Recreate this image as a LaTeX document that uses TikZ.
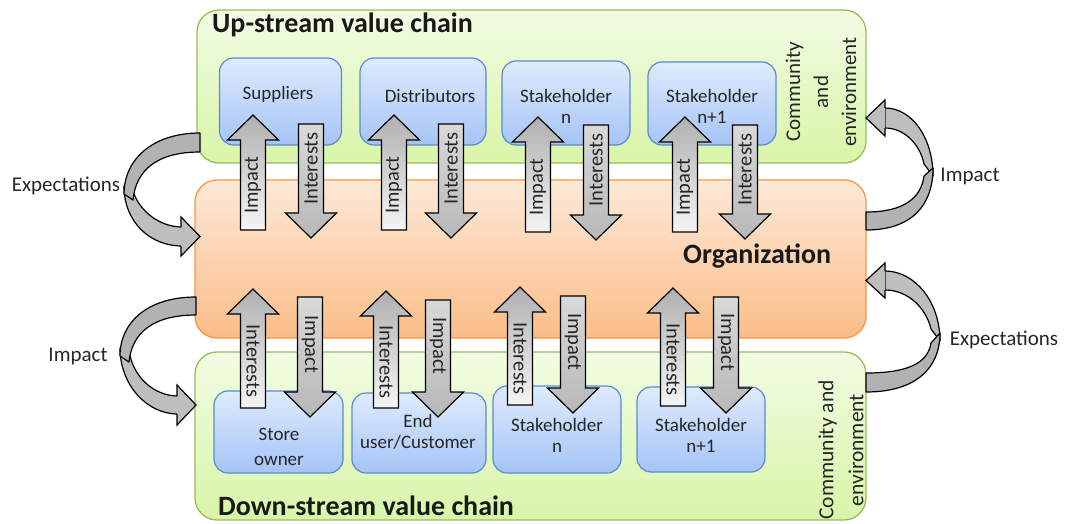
\documentclass[tikz,border=0pt]{standalone}
\usepackage{fontspec}
\setmainfont{Carlito}
\definecolor{grnB}{HTML}{9BBB59}
\definecolor{grnT}{HTML}{F2FCE4}
\definecolor{grnBot}{HTML}{D8F5A8}
\definecolor{orB}{HTML}{F79646}
\definecolor{orT}{HTML}{FDE9D8}
\definecolor{orBot}{HTML}{FBBD88}
\definecolor{blB}{HTML}{5A8BD0}
\definecolor{blT}{HTML}{DFEBFD}
\definecolor{blBot}{HTML}{A5C4F6}
\definecolor{txt}{HTML}{262626}
\definecolor{bandgray}{HTML}{BEBEBE}
\definecolor{banddark}{HTML}{B2B2B2}
\newcommand{\fs}[2]{\fontsize{#1}{#2}\selectfont}
\newcommand{\arrUp}[6]{%
  \pgfmathsetmacro{\hb}{#3+25}%
  \pgfmathsetmacro{\my}{(#3+25+#4)/2}%
  \path[uparr] (#2-12.5,#4) -- (#2-12.5,\hb) -- (#2-25.5,\hb) -- (#2,#3) -- (#2+25.5,\hb) -- (#2+12.5,\hb) -- (#2+12.5,#4) -- cycle;
  \node[alabel, rotate=#6] (#1) at (#2,\my) {#5};
}
\newcommand{\arrDown}[6]{%
  \pgfmathsetmacro{\hb}{#4-25}%
  \pgfmathsetmacro{\my}{(#3+#4-25)/2}%
  \path[dnarr] (#2-12.5,#3) -- (#2+12.5,#3) -- (#2+12.5,\hb) -- (#2+25.5,\hb) -- (#2,#4) -- (#2-25.5,\hb) -- (#2-12.5,\hb) -- cycle;
  \node[alabel, rotate=#6] (#1) at (#2,\my) {#5};
}
\begin{document}
\begin{tikzpicture}[x=1pt,y=-1pt,
  greenbox/.style={draw=grnB, line width=1.3pt, rounded corners=22pt, top color=grnT, bottom color=grnBot, inner sep=0pt},
  orangebox/.style={draw=orB, line width=1.3pt, rounded corners=22pt, top color=orT, bottom color=orBot, inner sep=0pt},
  bluebox/.style={draw=blB, line width=1.2pt, rounded corners=14pt, top color=blT, bottom color=blBot, inner sep=0pt},
  uparr/.style={draw=black, line width=1.2pt, line join=miter, top color=gray!62, middle color=gray!14, bottom color=gray!8},
  dnarr/.style={draw=black, line width=1.2pt, line join=miter, top color=gray!30, bottom color=gray!56},
  alabel/.style={font=\fs{20.5}{24}, text=txt, inner sep=0pt, anchor=center},
  blabel/.style={font=\fs{19}{21}, text=txt, align=center, inner sep=0pt},
  slabel/.style={font=\fs{21}{25}, text=txt, inner sep=0pt},
  title/.style={font=\bfseries\fs{28}{32}, text=black!90, inner sep=0pt},
  piece/.style={fill=bandgray, draw=black, line width=1.2pt, line join=round},
  piecedark/.style={fill=banddark, draw=black, line width=1.2pt, line join=round},
  headline/.style={black, line width=1.2pt, line join=miter}
]
\useasboundingbox (0,0) rectangle (1067,524);

% main boxes
\node[greenbox, minimum width=669pt, minimum height=153pt] (up) at (531.5,86.5) {};
\node[orangebox, minimum width=671pt, minimum height=158pt] (org) at (530.5,259) {};
\node[greenbox, minimum width=671pt, minimum height=168pt] (down) at (530.5,436) {};

% titles
\node[title, anchor=base west] (uptitle) at (212,33) {Up-stream value chain};
\node[title, anchor=base west] (dntitle) at (218,515) {Down-stream value chain};
\node[title, anchor=base west] (orgtitle) at (683,263) {Organization};

% upstream blue boxes
\node[bluebox, minimum width=122pt, minimum height=87pt] (sup) at (280.5,101.5) {};
\node[bluebox, minimum width=126pt, minimum height=87pt] (dist) at (423,101.5) {};
\node[bluebox, minimum width=128pt, minimum height=84pt] (shn) at (566,103) {};
\node[bluebox, minimum width=128pt, minimum height=83pt] (shn1) at (712,103.5) {};
\node[blabel] (supt) at (278,94) {Suppliers};
\node[blabel] (distt) at (430,96) {Distributors};
\node[blabel] (shnt) at (566,106.5) {Stakeholder\\n};
\node[blabel] (shn1t) at (712,106.5) {Stakeholder\\n+1};

% downstream blue boxes
\node[bluebox, minimum width=129pt, minimum height=82pt] (store) at (278.5,432) {};
\node[bluebox, minimum width=134pt, minimum height=80pt] (end) at (419,433) {};
\node[bluebox, minimum width=128pt, minimum height=87pt] (dshn) at (557,429.5) {};
\node[bluebox, minimum width=128pt, minimum height=85pt] (dshn1) at (701,429.5) {};
\node[blabel, font=\fs{19}{25}] (storet) at (279,446.5) {Store\\owner};
\node[blabel] (endt) at (418,431.5) {End\\user/Customer};
\node[blabel] (dshnt) at (557,435.5) {Stakeholder\\n};
\node[blabel] (dshn1t) at (701,435.5) {Stakeholder\\n+1};

% community labels
\node[slabel, rotate=90, align=center, font=\fs{21}{28}] (comup) at (821,92) {Community\\and\\environment};
\node[slabel, rotate=90, align=center, font=\fs{21.5}{30}] (comdn) at (841,450) {Community and\\environment};

% vertical arrows, upstream
\arrUp{i1}{253}{115}{230}{Impact}{90}
\arrDown{n1}{311}{124}{238}{Interests}{90}
\arrUp{i2}{394}{115}{230}{Impact}{90}
\arrDown{n2}{451}{124}{238}{Interests}{90}
\arrUp{i3}{538}{117}{232}{Impact}{90}
\arrDown{n3}{596}{125}{240}{Interests}{90}
\arrUp{i4}{685}{117}{232}{Impact}{90}
\arrDown{n4}{745}{125}{239}{Interests}{90}

% vertical arrows, downstream
\arrUp{di1}{253}{289}{408}{Interests}{-90}
\arrDown{dn1}{310}{297}{417}{Impact}{-90}
\arrUp{di2}{386}{291}{408}{Interests}{-90}
\arrDown{dn2}{438}{300}{417}{Impact}{-90}
\arrUp{di3}{520}{287}{405}{Interests}{-90}
\arrDown{dn3}{573}{296}{413}{Impact}{-90}
\arrUp{di4}{673}{288}{406}{Interests}{-90}
\arrDown{dn4}{726}{297}{413}{Impact}{-90}

% curved arrow: left top (Expectations), from up-stream box to organization
\path[piece] (124,186) .. controls (124,222) and (150,246) .. (182,246) -- (182,227) .. controls (162,227) and (142,214) .. (134,194) -- cycle;
\path[piecedark] (200,133) .. controls (152,133) and (124,160) .. (124,194) -- (133,200) .. controls (136,170) and (157,152) .. (200,152) -- cycle;
\fill[bandgray] (181,217) -- (200,236.5) -- (181,256) -- cycle;
\draw[headline] (181,227) -- (181,217) -- (200,236.5) -- (181,256) -- (181,246);

% left bottom (Impact), from organization to down-stream box
\path[piece] (120,348) .. controls (120,384) and (146,414) .. (178,414) -- (178,396) .. controls (156,396) and (136,380) .. (130,356) -- cycle;
\path[piecedark] (196,297) .. controls (148,297) and (120,322) .. (120,356) -- (129,362) .. controls (132,332) and (154,315) .. (196,315) -- cycle;
\fill[bandgray] (177,385) -- (196,405) -- (177,425) -- cycle;
\draw[headline] (177,396) -- (177,385) -- (196,405) -- (177,425) -- (177,414);

% right top (Impact), from organization to up-stream box
\path[piece] (933,176) .. controls (933,138) and (912,108) .. (885,108) -- (885,128) .. controls (904,128) and (920,144) .. (924,164) -- cycle;
\path[piecedark] (866,230) .. controls (912,230) and (933,205) .. (933,168) -- (924,176) .. controls (921,198) and (904,212) .. (866,212) -- cycle;
\fill[bandgray] (885,100) -- (866,118) -- (885,136) -- cycle;
\draw[headline] (885,108) -- (885,100) -- (866,118) -- (885,136) -- (885,128);

% right bottom (Expectations), from down-stream box to organization
\path[piece] (940,341) .. controls (940,302) and (915,271) .. (885,271) -- (885,290) .. controls (908,290) and (926,308) .. (931,329) -- cycle;
\path[piecedark] (866,392) .. controls (916,392) and (940,368) .. (940,333) -- (931,343) .. controls (928,362) and (910,373) .. (866,373) -- cycle;
\fill[bandgray] (885,263) -- (866,280.5) -- (885,298) -- cycle;
\draw[headline] (885,271) -- (885,263) -- (866,280.5) -- (885,298) -- (885,290);

% side labels
\node[slabel] (lexp) at (66,186) {Expectations};
\node[slabel] (limp) at (78,356) {Impact};
\node[slabel] (rimp) at (970,176) {Impact};
\node[slabel] (rexp) at (1004,340) {Expectations};
\end{tikzpicture}
\end{document}
